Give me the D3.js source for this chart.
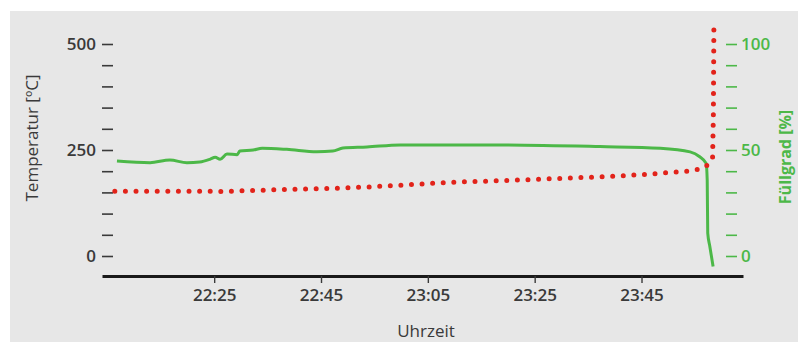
<!DOCTYPE html>
<html>
<head>
<meta charset="utf-8">
<script src="https://cdn.jsdelivr.net/npm/d3@7"></script>
<style>
  body { margin: 0; background: #fff; }
  svg { display: block; }
  .tick text { font-family: "Open Sans", sans-serif; }
</style>
</head>
<body>
<div id="chart"></div>
<script>
// time range of the x axis and its labelled ticks
const timeDomain = ["22:04:00", "00:04:00"];
const timeTicks = ["22:25:00", "22:45:00", "23:05:00", "23:25:00", "23:45:00"];

// Füllgrad [%] (green line)
const fillTimes = ["22:06:48", "22:13:00", "22:16:42", "22:19:54", "22:22:18", "22:24:12", "22:25:12",
    "22:26:06", "22:27:24", "22:29:18", "22:29:48", "22:32:18", "22:34:00", "22:38:36", "22:44:12",
    "22:47:12", "22:49:06", "22:53:36", "22:59:48", "23:18:30", "23:37:12", "23:48:30", "23:54:06",
    "23:55:54", "23:57:06", "23:57:18", "23:57:24", "23:57:48", "23:58:24"];
const fillValues = [44.8, 44.0, 45.3, 44.0, 44.3, 45.6, 46.6,
    45.6, 48.1, 47.8, 49.5, 50.0, 50.8, 50.3, 49.2,
    49.5, 50.9, 51.4, 52.4, 52.4, 51.6, 50.8, 49.1,
    46.8, 43.7, 35.8, 10.8, 4.4, -5.0];

// Temperatur [°C] (red dotted line)
const tempTimes = ["22:06:24", "22:22:18", "22:26:30", "22:30:24", "22:36:00", "22:42:24", "22:48:12",
    "22:54:12", "22:59:48", "23:09:42", "23:21:42", "23:29:42", "23:37:48", "23:45:18", "23:53:30",
    "23:55:54", "23:57:06", "23:58:18", "23:58:27", "23:58:33"];
const tempValues = [153, 153, 152, 154, 156, 158, 160,
    163, 167, 174, 179, 183, 187, 192, 200,
    205, 212, 228, 330, 540];

const tempTicks = d3.range(0, 501, 50);
const fillTicks = d3.range(0, 101, 10);

const width = 798, height = 342;
const green = "#4cb848", red = "#e2231a", ink = "#3a3a3a";

// times after midnight belong to the next day
const parseClock = d3.timeParse("%H:%M:%S");
function parseTime(s) {
    let t = parseClock(s);
    if (t.getHours() < 12) t = d3.timeDay.offset(t, 1);
    return t;
}

let svg = d3.select("#chart").append("svg")
    .attr("width", width)
    .attr("height", height);

// grey panel
svg.append("rect")
    .attr("x", 10).attr("y", 11)
    .attr("width", width - 10).attr("height", height - 11)
    .attr("fill", "#e7e7e7");

let x = d3.scaleTime()
    .domain(timeDomain.map(parseTime))
    .range([102, 743]);
let yTemp = d3.scaleLinear().domain([0, 500]).range([256, 44]);
let yFill = d3.scaleLinear().domain([0, 100]).range([256, 44]);

// left axis
let leftAxis = svg.append("g")
    .attr("transform", "translate(113,0)")
    .call(d3.axisLeft(yTemp).tickValues(tempTicks).tickSize(11).tickPadding(6)
        .tickFormat(d => d % 250 === 0 ? d : ""));
leftAxis.select(".domain").remove();
leftAxis.selectAll(".tick line").attr("stroke", ink).attr("stroke-width", 1.6);
leftAxis.selectAll(".tick text")
    .attr("fill", ink).attr("font-size", 17).attr("font-weight", 600);

// right axis
let rightAxis = svg.append("g")
    .attr("transform", "translate(726,0)")
    .call(d3.axisRight(yFill).tickValues(fillTicks).tickSize(11).tickPadding(4)
        .tickFormat(d => d % 50 === 0 ? d : ""));
rightAxis.select(".domain").remove();
rightAxis.selectAll(".tick line").attr("stroke", green).attr("stroke-width", 1.6);
rightAxis.selectAll(".tick text")
    .attr("fill", green).attr("font-size", 17).attr("font-weight", 600);

// bottom axis
let bottomAxis = svg.append("g")
    .attr("transform", "translate(0,276)")
    .call(d3.axisBottom(x).tickValues(timeTicks.map(parseTime))
        .tickSize(7).tickSizeOuter(0).tickPadding(6)
        .tickFormat(d3.timeFormat("%H:%M")));
bottomAxis.select(".domain")
    .attr("stroke", "#1a1a1a").attr("stroke-width", 3.2);
bottomAxis.selectAll(".tick line").attr("stroke", ink).attr("stroke-width", 1.4);
bottomAxis.selectAll(".tick text")
    .attr("fill", ink).attr("font-size", 17).attr("font-weight", 600);

// green fill level line
let fillLine = d3.line()
    .x((d, i) => x(parseTime(fillTimes[i])))
    .y(d => yFill(d))
    .curve(d3.curveMonotoneX);

svg.append("path")
    .datum(fillValues)
    .attr("d", fillLine)
    .attr("fill", "none")
    .attr("stroke", green)
    .attr("stroke-width", 3)
    .attr("stroke-linejoin", "round");

// red dotted temperature line
let tempLine = d3.line()
    .x((d, i) => x(parseTime(tempTimes[i])))
    .y(d => yTemp(d));

svg.append("path")
    .datum(tempValues)
    .attr("d", tempLine)
    .attr("fill", "none")
    .attr("stroke", red)
    .attr("stroke-width", 5)
    .attr("stroke-linecap", "round")
    .attr("stroke-dasharray", "0 10.6");

// axis titles
svg.append("text")
    .attr("transform", "translate(38,138) rotate(-90)")
    .attr("text-anchor", "middle")
    .attr("font-family", "Open Sans, sans-serif")
    .attr("font-size", 17)
    .attr("fill", ink)
    .text("Temperatur [ºC]");

svg.append("text")
    .attr("transform", "translate(791,157) rotate(-90)")
    .attr("text-anchor", "middle")
    .attr("font-family", "Open Sans, sans-serif")
    .attr("font-size", 16)
    .attr("font-weight", 700)
    .attr("fill", green)
    .text("Füllgrad [%]");

svg.append("text")
    .attr("x", 426).attr("y", 337)
    .attr("text-anchor", "middle")
    .attr("font-family", "Open Sans, sans-serif")
    .attr("font-size", 17)
    .attr("fill", ink)
    .text("Uhrzeit");
</script>
</body>
</html>
